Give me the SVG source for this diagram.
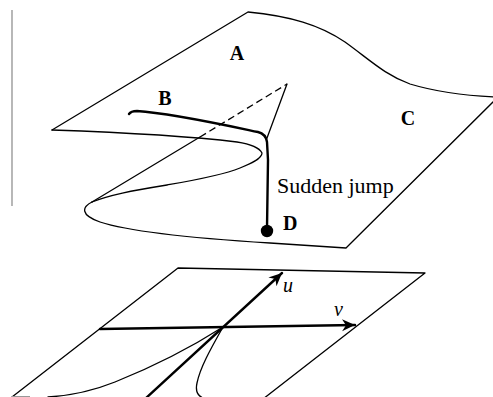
<svg xmlns="http://www.w3.org/2000/svg" width="493" height="397" viewBox="0 0 493 397">
<style>
.thin{fill:none;stroke:#000;stroke-width:1.3;stroke-linejoin:round;stroke-linecap:round}
.thick{fill:none;stroke:#000;stroke-width:2.4;stroke-linejoin:round;stroke-linecap:round}
.dash{fill:none;stroke:#000;stroke-width:1.3;stroke-dasharray:7 4}
.lbl{font-family:"Liberation Serif","Times New Roman",serif;font-weight:bold;font-size:20px;fill:#000}
.txt{font-family:"Liberation Serif","Times New Roman",serif;font-size:22px;fill:#000}
.it{font-family:"Liberation Serif","Times New Roman",serif;font-style:italic;font-size:20px;fill:#000}
</style>
<defs>
<marker id="ah" markerUnits="userSpaceOnUse" markerWidth="16" markerHeight="14" refX="13" refY="6" orient="auto">
<path d="M13,6 L0,0 L4,6 L0,12 Z" fill="#000"/>
</marker>
</defs>
<g id="frame-line">
<line x1="12" y1="10" x2="12" y2="206" stroke="#888" stroke-width="1.2"/>
</g>
<g id="upper-surface">
<path class="thin" d="M52,130 L248,12 C290,16 320,25 345,42 C370,60 385,75 410,84 C440,93 470,96 498,97 L346,248 L270,243 C190,238 130,232 100,222 C80,215 82,207 92,202"/>
<path class="thin" d="M52,130 C110,132 180,135 237,142 C250,144 259,147 262,153 C262,159 250,164 240,168 C220,176 190,181 167,185 C130,191 110,195 92,202"/>
</g>
<g id="fold-lines">
<line class="thin" x1="92" y1="202" x2="200" y2="137"/>
<line class="dash" x1="200" y1="137" x2="287" y2="84"/>
<line class="thin" x1="287" y1="84" x2="267" y2="138"/>
</g>
<g id="path-B-D">
<path class="thick" d="M129,114 Q131,111 137,111 C170,113 220,124 258,132 Q266,134 267,142 L268,160 L267,228"/>
<circle cx="267" cy="231" r="6.2" fill="#000"/>
</g>
<g id="labels">
<text class="lbl" x="237" y="60" text-anchor="middle">A</text>
<text class="lbl" x="165" y="105" text-anchor="middle">B</text>
<text class="lbl" x="408" y="125" text-anchor="middle">C</text>
<text class="lbl" x="283" y="230">D</text>
<text class="txt" x="277" y="193">Sudden jump</text>
</g>
<g id="lower-plane">
<path class="thin" d="M12,397 L178,268 L425,273 L263,399"/>
<line x1="12" y1="396.5" x2="30" y2="396.5" stroke="#999" stroke-width="1"/>
<path class="thin" d="M223,327 C190,348 150,368 115,382 C90,392 65,396 48,397"/>
<path class="thin" d="M223,327 C210,350 200,368 197,383 C195,392 198,396 203,398"/>
</g>
<g id="connectors">
<line class="thick" x1="100" y1="329" x2="355" y2="325" marker-end="url(#ah)"/>
<line class="thick" x1="145" y1="399" x2="282" y2="273" marker-end="url(#ah)"/>
</g>
<g id="axis-labels">
<text class="it" x="283" y="292">u</text>
<text class="it" x="334" y="316">v</text>
</g>
</svg>
